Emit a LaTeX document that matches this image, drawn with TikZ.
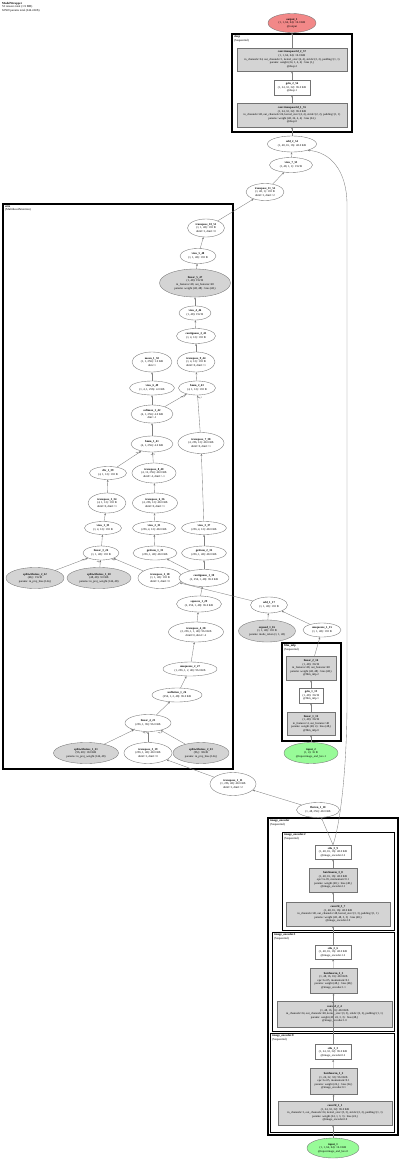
\documentclass[tikz,border=0pt]{standalone}
\usepackage{fontspec}
\setmainfont{Liberation Serif}
\usetikzlibrary{shapes.geometric,arrows.meta}
\definecolor{palegreen}{RGB}{152,251,152}
\definecolor{lightcoral}{RGB}{242,136,136}
\newcommand\nf{\fontsize{2.9}{3.6}\selectfont}
\newcommand\cf{\fontsize{3}{3.5}\selectfont}
\newcommand\ef{\fontsize{2.2}{2.6}\selectfont}
\newcommand\mynode[7]{\node[#1, minimum width=#5pt, minimum height=#6pt] (#2) at (#3,#4) {#7};}
\tikzset{
 base/.style={inner sep=0pt, align=center, font=\nf, draw=black!55, line width=0.35pt},
 ell/.style={base, ellipse, fill=white},
 gell/.style={base, ellipse, fill=black!17},
 gbox/.style={base, rectangle, fill=black!17},
 wbox/.style={base, rectangle, fill=white},
 inell/.style={base, ellipse, fill=palegreen},
 outell/.style={base, ellipse, fill=lightcoral},
 edge/.style={draw=black!50, line width=0.35pt, -{Stealth[length=2.2pt,width=1.8pt,fill=black!80]}},
 cluster/.style={draw=black, line width=1.1pt},
 subcluster/.style={draw=black, line width=0.8pt},
 clabel/.style={anchor=north west, inner sep=0pt, align=left, font=\cf},
 elabel/.style={inner sep=0pt, font=\ef, text=black!80},
}
\begin{document}
\begin{tikzpicture}[x=1pt,y=-1pt]
\useasboundingbox (0,0) rectangle (400,1159);
\fill[white] (0,0) rectangle (400,1159);

% header
\node[anchor=north west, inner sep=0pt, align=left, font=\cf] (hdr) at (2,2)
 {\textbf{ModelWrapper}\\53 tensors total (1.9 MB)\\62569 params total (244.4 KB)};

% clusters
\draw[cluster] (232,34) rectangle (352,132);
\node[clabel] (ldeep) at (234,35.5) {\textbf{deep}\\(Sequential)};
\draw[cluster] (3,204) rectangle (233,769);
\node[clabel] (lattn) at (5,205.5) {\textbf{attn}\\(MultiheadAttention)};
\draw[cluster] (282,643) rectangle (341,741);
\node[clabel] (lfilm) at (284,644.5) {\textbf{film\_mlp}\\(Sequential)};
\draw[cluster] (268,818) rectangle (398,1135);
\node[clabel] (lenc) at (270,819.5) {\textbf{image\_encoder}\\(Sequential)};
\draw[subcluster] (282,832) rectangle (394,930);
\node[clabel] (lenc2) at (284,833.5) {\textbf{image\_encoder.2}\\(Sequential)};
\draw[subcluster] (272,932) rectangle (394,1031);
\node[clabel] (lenc1) at (274,933.5) {\textbf{image\_encoder.1}\\(Sequential)};
\draw[subcluster] (270,1033) rectangle (394,1132);
\node[clabel] (lenc0) at (272,1034.5) {\textbf{image\_encoder.0}\\(Sequential)};

% top part
\mynode{outell}{out1}{292}{23}{48}{19}{\textbf{output\_1}\\(1, 1, 64, 64): 16.0 KB\\@output}
\mynode{gbox}{cv257}{292}{59.5}{110}{23}{\textbf{convtranspose2d\_2\_57}\\(1, 1, 64, 64): 16.0 KB\\in\_channels=24, out\_channels=1, kernel\_size=(4, 4), stride=(2, 2), padding=(1, 1)\\params: weight (24, 1, 4, 4) · bias (1,)\\@deep.2}
\mynode{wbox}{gelu256}{292}{87.5}{36}{15}{\textbf{gelu\_2\_56}\\(1, 24, 32, 32): 96.0 KB\\@deep.1}
\mynode{gbox}{cv155}{292}{115}{110}{24}{\textbf{convtranspose2d\_1\_55}\\(1, 24, 32, 32): 96.0 KB\\in\_channels=48, out\_channels=24, kernel\_size=(4, 4), stride=(2, 2), padding=(1, 1)\\params: weight (48, 24, 4, 4) · bias (24,)\\@deep.0}
\mynode{ell}{add254}{292}{144}{49}{16}{\textbf{add\_2\_54}\\(1, 48, 16, 16): 48.0 KB}
\mynode{ell}{view753}{291}{165}{43}{15}{\textbf{view\_7\_53}\\(1, 48, 1, 1): 192 B}
\mynode{ell}{tr1152}{265}{192}{38}{17}{\textbf{transpose\_11\_52}\\(1, 48, 1): 192 B\\dim0=1, dim1=2}

% attention
\mynode{ell}{tr1051}{206}{228}{37}{18}{\textbf{transpose\_10\_51}\\(1, 1, 48): 192 B\\dim0=1, dim1=0}
\mynode{ell}{view548}{198}{256}{36}{15}{\textbf{view\_5\_48}\\(1, 1, 48): 192 B}
\mynode{gell}{lin547}{195}{283}{71}{28}{\textbf{linear\_5\_47}\\(1, 48): 192 B\\in\_features=48, out\_features=48\\params: weight (48, 48) · bias (48,)}
\mynode{ell}{view446}{195}{313}{32}{14}{\textbf{view\_4\_46}\\(1, 48): 192 B}
\mynode{ell}{cont245}{196}{336}{39}{15}{\textbf{contiguous\_2\_45}\\(1, 4, 12): 192 B}
\mynode{ell}{mean150}{152}{362}{40}{20}{\textbf{mean\_1\_50}\\(1, 1, 256): 1.0 KB\\dim=1}
\mynode{ell}{tr944}{196}{362}{38}{20}{\textbf{transpose\_9\_44}\\(1, 4, 12): 192 B\\dim0=0, dim1=1}
\mynode{ell}{view649}{152}{388}{45}{14}{\textbf{view\_6\_49}\\(1, 4, 1, 256): 4.0 KB}
\mynode{ell}{bmm243}{197}{388}{37}{14}{\textbf{bmm\_2\_43}\\(4, 1, 12): 192 B}
\mynode{ell}{soft142}{152}{414}{42}{18}{\textbf{softmax\_1\_42}\\(4, 1, 256): 4.0 KB\\dim=-1}
\mynode{ell}{bmm141}{152}{444}{42}{16}{\textbf{bmm\_1\_41}\\(4, 1, 256): 4.0 KB}
\mynode{ell}{tr738}{201}{443}{46}{21}{\textbf{transpose\_7\_38}\\(4, 256, 12): 48.0 KB\\dim0=0, dim1=1}
\mynode{ell}{div139}{108}{473}{37}{13}{\textbf{div\_1\_39}\\(4, 1, 12): 192 B}
\mynode{ell}{tr840}{154}{473}{44}{20}{\textbf{transpose\_8\_40}\\(4, 12, 256): 48.0 KB\\dim0=-2, dim1=-1}
\mynode{ell}{tr534}{107}{503}{38}{20}{\textbf{transpose\_5\_34}\\(4, 1, 12): 192 B\\dim0=0, dim1=1}
\mynode{ell}{tr636}{155}{503}{45}{20}{\textbf{transpose\_6\_36}\\(4, 256, 12): 48.0 KB\\dim0=0, dim1=1}
\mynode{ell}{view133}{103}{528}{37}{13}{\textbf{view\_1\_33}\\(1, 4, 12): 192 B}
\mynode{ell}{view235}{154}{528}{43}{13}{\textbf{view\_2\_35}\\(256, 4, 12): 48.0 KB}
\mynode{ell}{view337}{204}{528}{45}{13}{\textbf{view\_3\_37}\\(256, 4, 12): 48.0 KB}
\mynode{ell}{lin324}{101}{553}{36}{14}{\textbf{linear\_3\_24}\\(1, 1, 48): 192 B}
\mynode{ell}{get131}{155}{553}{44}{14}{\textbf{getitem\_1\_31}\\(256, 1, 48): 48.0 KB}
\mynode{ell}{get232}{204}{553}{45}{14}{\textbf{getitem\_2\_32}\\(256, 1, 48): 48.0 KB}
\mynode{gell}{sp222}{35}{578}{58}{21}{\textbf{splitwithsizes\_2\_22}\\(48,): 192 B\\params: in\_proj\_bias (144,)}
\mynode{gell}{sp120}{99}{578}{64}{21}{\textbf{splitwithsizes\_1\_20}\\(48, 48): 9.0 KB\\params: in\_proj\_weight (144, 48)}
\mynode{ell}{tr218}{160}{578}{44}{21}{\textbf{transpose\_2\_18}\\(1, 1, 48): 192 B\\dim0=1, dim1=0}
\mynode{ell}{cont130}{204}{578}{50}{17}{\textbf{contiguous\_1\_30}\\(2, 256, 1, 48): 96.0 KB}
\mynode{ell}{sq129}{199}{604}{45}{16}{\textbf{squeeze\_1\_29}\\(2, 256, 1, 48): 96.0 KB}
\mynode{ell}{tr428}{196}{632}{55}{20}{\textbf{transpose\_4\_28}\\(2, 256, 1, 1, 48): 96.0 KB\\dim0=0, dim1=-2}
\mynode{ell}{unsq227}{190}{669}{54}{14}{\textbf{unsqueeze\_2\_27}\\(1, 256, 1, 2, 48): 96.0 KB}
\mynode{ell}{unfl126}{177}{695}{50}{14}{\textbf{unflatten\_1\_26}\\(256, 1, 2, 48): 96.0 KB}
\mynode{ell}{lin425}{148}{723}{46}{17}{\textbf{linear\_4\_25}\\(256, 1, 96): 96.0 KB}
\mynode{gell}{sp121}{86}{753}{65}{21}{\textbf{splitwithsizes\_1\_21}\\(96, 48): 18.0 KB\\params: in\_proj\_weight (144, 48)}
\mynode{ell}{tr319}{148}{753}{48}{21}{\textbf{transpose\_3\_19}\\(256, 1, 48): 48.0 KB\\dim0=1, dim1=0}
\mynode{gell}{sp223}{201}{753}{56}{21}{\textbf{splitwithsizes\_2\_23}\\(96,): 384 B\\params: in\_proj\_bias (144,)}

% mode token / film
\mynode{ell}{add117}{269}{605}{37}{16}{\textbf{add\_1\_17}\\(1, 1, 48): 192 B}
\mynode{gell}{exp116}{267}{631}{57}{22}{\textbf{expand\_1\_16}\\(1, 1, 48): 192 B\\params: mode\_token (1, 1, 48)}
\mynode{ell}{unsq115}{322}{630}{38}{14}{\textbf{unsqueeze\_1\_15}\\(1, 1, 48): 192 B}
\mynode{gbox}{lin214}{311}{668}{50}{24}{\textbf{linear\_2\_14}\\(1, 48): 192 B\\in\_features=48, out\_features=48\\params: weight (48, 48) · bias (48,)\\@film\_mlp.2}
\mynode{wbox}{gelu113}{311}{695.5}{24}{15}{\textbf{gelu\_1\_13}\\(1, 48): 192 B\\@film\_mlp.1}
\mynode{gbox}{lin112}{311}{723.5}{48}{23}{\textbf{linear\_1\_12}\\(1, 48): 192 B\\in\_features=4, out\_features=48\\params: weight (48, 4) · bias (48,)\\@film\_mlp.0}
\mynode{inell}{in2}{311}{753}{54}{21}{\textbf{input\_2}\\(1, 4): 16 B\\@input.image\_and\_box.1}

\mynode{ell}{tr111}{233}{784}{46}{23}{\textbf{transpose\_1\_11}\\(1, 256, 48): 48.0 KB\\dim0=1, dim1=2}
\mynode{ell}{flat110}{318}{810}{43}{15}{\textbf{flatten\_1\_10}\\(1, 48, 256): 48.0 KB}

% image encoder
\mynode{wbox}{silu39}{333}{852}{36}{14}{\textbf{silu\_3\_9}\\(1, 48, 16, 16): 48.0 KB\\@image\_encoder.2.2}
\mynode{gbox}{bn38}{333}{880}{48}{24}{\textbf{batchnorm\_3\_8}\\(1, 48, 16, 16): 48.0 KB\\eps=1e-05, momentum=0.1\\params: weight (48,) · bias (48,)\\@image\_encoder.2.1}
\mynode{gbox}{conv37}{338}{914}{104}{24}{\textbf{conv2d\_3\_7}\\(1, 48, 16, 16): 48.0 KB\\in\_channels=48, out\_channels=48, kernel\_size=(3, 3), padding=(1, 1)\\params: weight (48, 48, 3, 3) · bias (48,)\\@image\_encoder.2.0}
\mynode{wbox}{silu26}{333}{952}{36}{14}{\textbf{silu\_2\_6}\\(1, 48, 16, 16): 48.0 KB\\@image\_encoder.1.2}
\mynode{gbox}{bn25}{333.5}{980.5}{47}{25}{\textbf{batchnorm\_2\_5}\\(1, 48, 16, 16): 48.0 KB\\eps=1e-05, momentum=0.1\\params: weight (48,) · bias (48,)\\@image\_encoder.1.1}
\mynode{gbox}{conv24}{334.5}{1014}{115}{26}{\textbf{conv2d\_2\_4}\\(1, 48, 16, 16): 48.0 KB\\in\_channels=24, out\_channels=48, kernel\_size=(3, 3), stride=(2, 2), padding=(1, 1)\\params: weight (48, 24, 3, 3) · bias (48,)\\@image\_encoder.1.0}
\mynode{wbox}{silu13}{333}{1052}{36}{15}{\textbf{silu\_1\_3}\\(1, 24, 32, 32): 96.0 KB\\@image\_encoder.0.2}
\mynode{gbox}{bn12}{333.5}{1081}{47}{26}{\textbf{batchnorm\_1\_2}\\(1, 24, 32, 32): 96.0 KB\\eps=1e-05, momentum=0.1\\params: weight (24,) · bias (24,)\\@image\_encoder.0.1}
\mynode{gbox}{conv11}{335}{1113}{114}{24}{\textbf{conv2d\_1\_1}\\(1, 24, 32, 32): 96.0 KB\\in\_channels=1, out\_channels=24, kernel\_size=(3, 3), stride=(2, 2), padding=(1, 1)\\params: weight (24, 1, 3, 3) · bias (24,)\\@image\_encoder.0.0}
\mynode{inell}{in1}{333}{1148}{52}{20}{\textbf{input\_1}\\(1, 1, 64, 64): 16.0 KB\\@input.image\_and\_box.0}

% edges
\draw[edge] (in1) -- (conv11.south -| in1);
\draw[edge] (conv11.north -| bn12) -- (bn12);
\draw[edge] (bn12) -- (silu13);
\draw[edge] (silu13) -- (conv24.north -| silu13);
\draw[edge] (conv24.north -| bn25) -- (bn25);
\draw[edge] (bn25) -- (silu26);
\draw[edge] (silu26) -- (conv37.south -| silu26);
\draw[edge] (conv37.north -| bn38) -- (bn38);
\draw[edge] (bn38) -- (silu39);
\draw[edge] (silu39.north) -- (flat110);
\draw[edge] (silu39.north) .. controls (340,825) and (347,770) .. (347,700) -- (347,205) .. controls (347,170) and (330,152) .. (add254.-22);
\draw[edge] (flat110) -- (tr111);
\draw[edge] (tr111) -- (tr319);
\draw[edge] (in2) -- (lin112);
\draw[edge] (lin112) -- (gelu113);
\draw[edge] (gelu113) -- (lin214);
\draw[edge] (lin214) -- (unsq115);
\draw[edge] (unsq115) -- (add117);
\draw[edge] (exp116) -- (add117);
\draw[edge] (add117) -- (tr218);
\draw[edge] (tr218) -- (lin324);
\draw[edge] (sp120) -- (lin324);
\draw[edge] (sp222) -- (lin324);
\draw[edge] (tr319) -- (lin425);
\draw[edge] (sp121) -- (lin425);
\draw[edge] (sp223) -- (lin425);
\draw[edge] (lin425) -- (unfl126);
\draw[edge] (unfl126) -- (unsq227);
\draw[edge] (unsq227) -- (tr428);
\draw[edge] (tr428) -- (sq129);
\draw[edge] (sq129) -- (cont130);
\draw[edge] (cont130) -- (get131);
\draw[edge] (cont130) -- (get232);
\draw[edge] (lin324) -- (view133);
\draw[edge] (view133) -- (tr534);
\draw[edge] (tr534) -- (div139);
\draw[edge] (get131) -- (view235);
\draw[edge] (view235) -- (tr636);
\draw[edge] (tr636) -- (tr840);
\draw[edge] (get232) -- (view337);
\draw[edge] (view337) -- (tr738);
\draw[edge] (div139) -- (bmm141);
\draw[edge] (tr840) -- (bmm141);
\draw[edge] (bmm141) -- (soft142);
\draw[edge] (soft142) -- (bmm243);
\draw[edge] (tr738) -- (bmm243);
\draw[edge] (soft142) -- (view649);
\draw[edge] (view649) -- (mean150);
\draw[edge] (bmm243) -- (tr944);
\draw[edge] (tr944) -- (cont245);
\draw[edge] (cont245) -- (view446);
\draw[edge] (view446) -- (lin547);
\draw[edge] (lin547) -- (view548);
\draw[edge] (view548) -- (tr1051);
\draw[edge] (tr1051) -- (tr1152);
\draw[edge] (tr1152) -- (view753);
\draw[edge] (view753) -- (add254);
\draw[edge] (add254) -- (cv155);
\draw[edge] (cv155) -- (gelu256);
\draw[edge] (gelu256) -- (cv257);
\draw[edge] (cv257) -- (out1);

% edge labels
\node[elabel] (e1) at (84,560) {arg 2};
\node[elabel] (e2) at (99,562) {arg 1};
\node[elabel] (e3) at (114,560) {arg 0};
\node[elabel] (e4) at (133,730) {arg 1};
\node[elabel] (e5) at (145,733) {arg 0};
\node[elabel] (e6) at (160,733) {arg 2};
\node[elabel] (e7) at (138,453) {arg 0};
\node[elabel] (e8) at (153,455) {arg 1};
\node[elabel] (e9) at (183,397) {arg 0};
\node[elabel] (e10) at (200,398) {arg 1};
\end{tikzpicture}
\end{document}
